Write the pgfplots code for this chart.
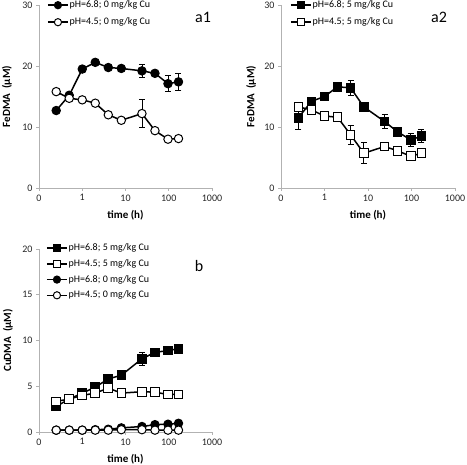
\documentclass[border=0pt]{standalone}
\usepackage{fontspec}
\setmainfont{Carlito}
\usepackage{pgfplots}
\pgfplotsset{compat=1.18}
\tikzset{
 fcS/.style={black, line width=1.5pt, mark=*, mark size=4.2pt, mark options={line width=1pt, fill=black}},
 ocS/.style={black, line width=1.5pt, mark=*, mark size=4.2pt, mark options={line width=1pt, fill=white}},
 fsS/.style={black, line width=1.5pt, mark=square*, mark size=4.3pt, mark options={line width=1pt, fill=black}},
 osS/.style={black, line width=1.5pt, mark=square*, mark size=4.3pt, mark options={line width=1pt, fill=white}},
}
\pgfplotsset{
 every axis/.append style={
  scale only axis, anchor=south west, clip=false,
  xmode=log, xmin=0.1, xmax=1000,
  xtick={0.1,1,10,100,1000}, xticklabels={0,1,10,100,1000},
  xminorticks=false, yminorticks=false,
  axis x line*=bottom, axis y line*=left,
  axis line style={black!30, line width=0.8pt},
  tick align=outside, major tick length=3pt,
  every tick/.style={black!30, line width=0.8pt},
  ticklabel style={font=\fontsize{10}{12}\selectfont, text=black!85},
  xlabel={time (h)},
  label style={font=\fontsize{11}{13}\selectfont\bfseries},
  xlabel style={at={(axis description cs:0.5,-0.148)}, anchor=center},
  legend style={draw=none, fill=none, inner sep=0pt, font=\fontsize{10}{12}\selectfont,
    anchor=north west, legend cell align=left, row sep=6pt,
    nodes={inner sep=1pt, text height=7pt, text depth=2pt}},
 },
 legend image code/.code={\draw[mark repeat=2,mark phase=2,#1,mark size=3.6pt] plot coordinates {(0pt,0pt)(10pt,0pt)(20pt,0pt)};},
}
\begin{document}
\begin{tikzpicture}
\useasboundingbox (0pt,0pt) rectangle (467pt,465pt);
% a1
\begin{axis}[at={(39pt,277pt)}, width=173pt, height=183pt,
  ymin=0, ymax=30, ytick={0,10,20,30},
  ylabel={FeDMA~~(μM)},
  ylabel style={at={(axis description cs:-0.185,0.5)}, anchor=center, rotate=0},
  legend style={at={(axis description cs:0,1)}, xshift=8pt, yshift=5.5pt},
  /pgf/number format/assume math mode=true]
\addplot[fcS, error bars/.cd, y dir=both, y explicit, error bar style={line width=0.8pt, black}, error mark options={rotate=90, mark size=3pt, line width=0.8pt, black}] coordinates {(0.25,12.7) +- (0,0) (0.5,15.2) +- (0,0.4) (1,19.5) +- (0,0.4) (2,20.6) +- (0,0.5) (4,19.75) +- (0,0.3) (8,19.6) +- (0,0.4) (24,19.2) +- (0,1.0) (48,18.8) +- (0,0.3) (96,17.1) +- (0,1.3) (168,17.4) +- (0,1.4)};
\addlegendentry{pH=6.8; 0 mg/kg Cu}
\addplot[ocS, error bars/.cd, y dir=both, y explicit, error bar style={line width=0.8pt, black}, error mark options={rotate=90, mark size=3pt, line width=0.8pt, black}] coordinates {(0.25,15.8) +- (0,0) (0.5,14.7) +- (0,0) (1,14.45) +- (0,0) (2,13.9) +- (0,0) (4,12.0) +- (0,0) (8,11.1) +- (0,0) (24,12.2) +- (0,2.3) (48,9.4) +- (0,0) (96,8.0) +- (0,0) (168,8.1) +- (0,0)};
\addlegendentry{pH=4.5; 0 mg/kg Cu}
\node[font=\fontsize{16}{18}\selectfont] at (axis description cs:0.948,0.934) {a1};
\end{axis}
% a2
\begin{axis}[at={(281pt,277pt)}, width=174pt, height=183pt,
  ymin=0, ymax=30, ytick={0,10,20,30},
  ylabel={FeDMA~~(μM)},
  ylabel style={at={(axis description cs:-0.172,0.5)}, anchor=center, rotate=0},
  legend style={at={(axis description cs:0,1)}, xshift=9pt, yshift=5.5pt},
  /pgf/number format/assume math mode=true]
\addplot[fsS, error bars/.cd, y dir=both, y explicit, error bar style={line width=0.8pt, black}, error mark options={rotate=90, mark size=3pt, line width=0.8pt, black}] coordinates {(0.25,11.5) +- (0,1.9) (0.5,14.2) +- (0,0) (1,15.0) +- (0,0) (2,16.6) +- (0,0) (4,16.4) +- (0,1.2) (8,13.3) +- (0,0) (24,10.9) +- (0,1.1) (48,9.2) +- (0,0) (96,7.9) +- (0,1.0) (168,8.5) +- (0,1.1)};
\addlegendentry{pH=6.8; 5 mg/kg Cu}
\addplot[osS, error bars/.cd, y dir=both, y explicit, error bar style={line width=0.8pt, black}, error mark options={rotate=90, mark size=3pt, line width=0.8pt, black}] coordinates {(0.25,13.3) +- (0,0) (0.5,12.8) +- (0,0) (1,11.8) +- (0,0) (2,11.6) +- (0,0) (4,8.7) +- (0,1.5) (8,5.7) +- (0,1.7) (24,6.8) +- (0,0) (48,6.1) +- (0,0) (96,5.2) +- (0,0) (168,5.7) +- (0,0)};
\addlegendentry{pH=4.5; 5 mg/kg Cu}
\node[font=\fontsize{16}{18}\selectfont] at (axis description cs:0.908,0.934) {a2};
\end{axis}
% b
\begin{axis}[at={(39pt,33pt)}, width=173pt, height=183pt,
  ymin=0, ymax=20, ytick={0,5,10,15,20},
  ylabel={CuDMA~~(μM)},
  ylabel style={at={(axis description cs:-0.18,0.5)}, anchor=center, rotate=0},
  legend style={at={(axis description cs:0,1)}, xshift=7pt, yshift=6.5pt, row sep=4.7pt},
  /pgf/number format/assume math mode=true]
\addplot[fsS, error bars/.cd, y dir=both, y explicit, error bar style={line width=0.8pt, black}, error mark options={rotate=90, mark size=3pt, line width=0.8pt, black}] coordinates {(0.25,2.8) +- (0,0) (0.5,3.6) +- (0,0) (1,4.25) +- (0,0) (2,4.9) +- (0,0) (4,5.8) +- (0,0) (8,6.2) +- (0,0) (24,8.0) +- (0,0.7) (48,8.7) +- (0,0) (96,8.9) +- (0,0) (168,9.1) +- (0,0)};
\addlegendentry{pH=6.8; 5 mg/kg Cu}
\addplot[osS] coordinates {(0.25,3.35) (0.5,3.6) (1,4.0) (2,4.25) (4,4.8) (8,4.25) (24,4.4) (48,4.35) (96,4.1) (168,4.1)};
\addlegendentry{pH=4.5; 5 mg/kg Cu}
\addplot[fcS] coordinates {(0.25,0.2) (0.5,0.2) (1,0.2) (2,0.25) (4,0.3) (8,0.45) (24,0.6) (48,0.8) (96,0.85) (168,0.95)};
\addlegendentry{pH=6.8; 0 mg/kg Cu}
\addplot[ocS] coordinates {(0.25,0.2) (0.5,0.2) (1,0.2) (2,0.2) (4,0.2) (8,0.25) (24,0.25) (48,0.2) (96,0.2) (168,0.2)};
\addlegendentry{pH=4.5; 0 mg/kg Cu}
\node[font=\fontsize{16}{18}\selectfont] at (axis description cs:0.925,0.907) {b};
\end{axis}
\end{tikzpicture}
\end{document}
